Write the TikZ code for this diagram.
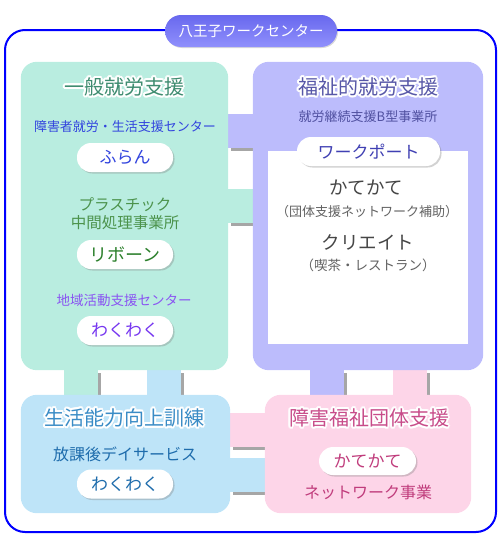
\documentclass[tikz,border=0pt]{standalone}
\usepackage{fontspec}
\setmainfont{Noto Sans CJK JP}
\usetikzlibrary{shadows}

\definecolor{frameblue}{RGB}{0,0,255}
\definecolor{tabtop}{RGB}{104,104,238}
\definecolor{tabbot}{RGB}{144,144,252}
\definecolor{genfill}{RGB}{185,237,224}
\definecolor{welfill}{RGB}{188,188,252}
\definecolor{lifefill}{RGB}{190,228,248}
\definecolor{grpfill}{RGB}{253,213,232}
\definecolor{gentext}{RGB}{62,140,112}
\definecolor{weltext}{RGB}{88,88,168}
\definecolor{lifetext}{RGB}{58,140,198}
\definecolor{grptext}{RGB}{200,76,138}
\definecolor{furanblue}{RGB}{50,68,222}
\definecolor{reborngreen}{RGB}{44,128,44}
\definecolor{wakuviolet}{RGB}{118,54,240}
\definecolor{portnavy}{RGB}{80,80,160}
\definecolor{innergray}{RGB}{70,70,70}
\definecolor{daysblue}{RGB}{30,108,172}
\definecolor{netpink}{RGB}{192,60,124}

% title with a white halo
\newcommand{\glowhead}[4]{%
  \foreach \a in {0,30,...,330}
    \node[head, text=white] (#1-\a) at ([shift={(\a:2pt)}]#2) {#4};
  \node[head, text=#3] (#1) at (#2) {#4};}

\begin{document}
\begin{tikzpicture}[x=1pt, y=-1pt,
    panel/.style={rounded corners=16pt, inner sep=0pt},
    pill/.style={fill=white, rounded corners=14pt, minimum width=96pt,
      minimum height=29pt, inner sep=0pt, font=\fontsize{17}{20}\selectfont,
      drop shadow={shadow xshift=1.5pt, shadow yshift=-1.5pt, opacity=.35}},
    head/.style={font=\fontsize{20}{24}\selectfont, inner sep=0pt},
    small/.style={font=\fontsize{13}{16}\selectfont, inner sep=0pt},
    mid/.style={font=\fontsize{16}{19}\selectfont, inner sep=0pt},
    bar/.style={line width=34pt},
    barshadow/.style={line width=34pt, black!35,
      transform canvas={shift={(3pt,-3pt)}}}]
    \useasboundingbox (0,0) rectangle (502,546);
    % Outer frame and its tab
    \node[draw=frameblue, line width=2pt, rounded corners=20pt,
      minimum width=491pt, minimum height=502pt] (frame) at (250.5,281) {};
    \node[rounded corners=16pt, minimum width=172pt, minimum height=32pt,
      top color=tabtop, bottom color=tabbot, text=white,
      font=\fontsize{14.5}{17}\selectfont,
      drop shadow={shadow xshift=1pt, shadow yshift=-1pt, opacity=.3}]
      (tab) at (251,31) {八王子ワークセンター};
    % Panels (placed first so the links can use them)
    \path (124.5,216) node[panel, minimum width=207pt, minimum height=308pt] (gen) {}
          (368,216) node[panel, minimum width=230pt, minimum height=308pt] (wel) {}
          (125.5,454) node[panel, minimum width=209pt, minimum height=118pt] (life) {}
          (368,454) node[panel, minimum width=206pt, minimum height=118pt] (grp) {};
    % Links between the panels
    \draw[barshadow] ([yshift=10pt]gen.east) -- ([yshift=10pt]wel.west);
    \draw[barshadow] ([yshift=85.5pt]gen.east) -- ([yshift=85.5pt]wel.west);
    \draw[barshadow] ([xshift=-44pt]gen.south) -- ([xshift=-45pt]life.north);
    \draw[barshadow] ([xshift=39pt]gen.south) -- ([xshift=38pt]life.north);
    \draw[barshadow] ([xshift=-41pt]wel.south) -- ([xshift=-41pt]grp.north);
    \draw[barshadow] ([xshift=41.5pt]wel.south) -- ([xshift=41.5pt]grp.north);
    \draw[barshadow] ([yshift=24.5pt]life.east) -- ([yshift=24.5pt]grp.west);
    \draw[barshadow] ([yshift=-21pt]life.east) -- ([yshift=-21pt]grp.west);
    \draw[bar, genfill] ([yshift=10pt]gen.east) -- ([yshift=10pt]wel.west);
    \draw[bar, welfill] ([yshift=85.5pt]gen.east) -- ([yshift=85.5pt]wel.west);
    \draw[bar, genfill] ([xshift=-44pt]gen.south) -- ([xshift=-45pt]life.north);
    \draw[bar, lifefill] ([xshift=39pt]gen.south) -- ([xshift=38pt]life.north);
    \draw[bar, welfill] ([xshift=-41pt]wel.south) -- ([xshift=-41pt]grp.north);
    \draw[bar, grpfill] ([xshift=41.5pt]wel.south) -- ([xshift=41.5pt]grp.north);
    \draw[bar, grpfill] ([yshift=24.5pt]life.east) -- ([yshift=24.5pt]grp.west);
    \draw[bar, lifefill] ([yshift=-21pt]life.east) -- ([yshift=-21pt]grp.west);
    % Panel fills
    \fill[genfill, rounded corners=16pt] (gen.north west) rectangle (gen.south east);
    \fill[welfill, rounded corners=16pt] (wel.north west) rectangle (wel.south east);
    \fill[lifefill, rounded corners=16pt] (life.north west) rectangle (life.south east);
    \fill[grpfill, rounded corners=16pt] (grp.north west) rectangle (grp.south east);
    \node[fill=white, minimum width=200pt, minimum height=193pt, inner sep=0pt]
      (welin) at (368,247.5) {};
    % General employment support
    \glowhead{gentitle}{124,87}{gentext}{一般就労支援}
    \node[small, text=furanblue] (furan-note) at (125,127) {障害者就労・生活支援センター};
    \node[pill, text=furanblue] (furan) at (125,157.5) {ふらん};
    \node[align=center, inner sep=0pt, text=reborngreen!85!white,
      font=\fontsize{15.5}{18}\selectfont] (reborn-note) at (125,214)
      {プラスチック\\中間処理事業所};
    \node[pill, text=reborngreen, font=\fontsize{18}{21}\selectfont] (reborn) at (125,254.5) {リボーン};
    \node[small, text=wakuviolet!85!white, font=\fontsize{13.5}{16}\selectfont]
      (waku-note) at (124,300) {地域活動支援センター};
    \node[pill, text=wakuviolet] (waku) at (125,330.5) {わくわく};
    % Welfare employment support
    \glowhead{weltitle}{368,87}{weltext}{福祉的就労支援}
    \node[small, text=portnavy] (port-note) at (368,117) {就労継続支援B型事業所};
    \node[pill, minimum width=143pt, text=portnavy!80!blue] (port) at (368.5,151.5) {ワークポート};
    \node[inner sep=0pt, text=innergray, font=\fontsize{18.5}{22}\selectfont]
      (katekate) at (366,187) {かてかて};
    \node[small, text=innergray!85!white] (katekate-note) at (367,212) {（団体支援ネットワーク補助）};
    \node[inner sep=0pt, text=innergray, font=\fontsize{18.5}{22}\selectfont]
      (create) at (368,242) {クリエイト};
    \node[small, text=innergray!85!white, font=\fontsize{13.5}{16}\selectfont]
      (create-note) at (368,265) {（喫茶・レストラン）};
    % Life skills training
    \glowhead{lifetitle}{124,418}{lifetext}{生活能力向上訓練}
    \node[mid, text=daysblue] (days-note) at (125,454) {放課後デイサービス};
    \node[pill, text=daysblue] (waku2) at (125,484) {わくわく};
    % Group support
    \glowhead{grptitle}{369,418}{grptext}{障害福祉団体支援}
    \node[pill, minimum width=97pt, minimum height=28pt, text=netpink] (katekate2)
      at (367.5,461) {かてかて};
    \node[mid, text=netpink] (net-note) at (368,492) {ネットワーク事業};
\end{tikzpicture}
\end{document}
